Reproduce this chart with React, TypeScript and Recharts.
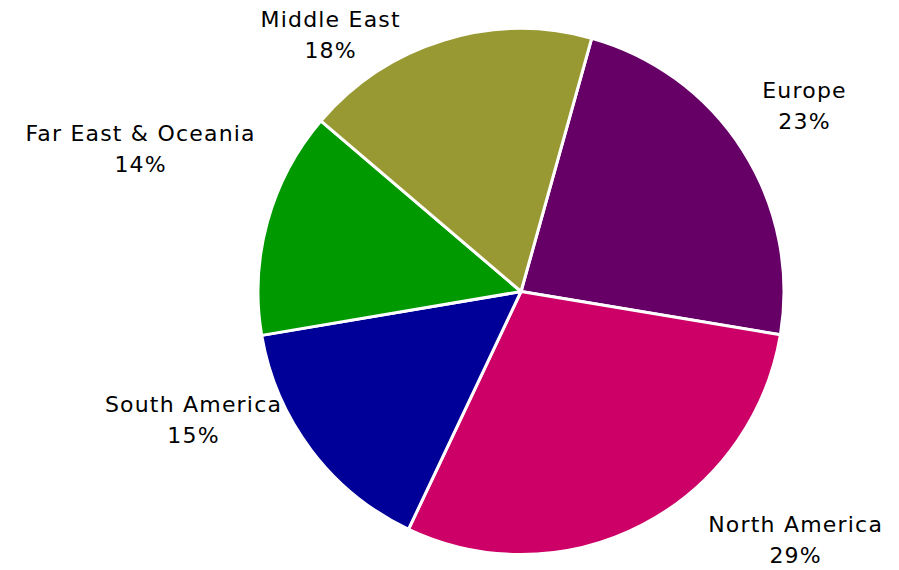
import { PieChart, Pie, Cell } from 'recharts';

const regions = ['Europe', 'North America', 'South America', 'Far East & Oceania', 'Middle East'];
const shares = [23.3, 29.4, 15.3, 13.9, 18.1];
const COLORS = ['#660066', '#CC0066', '#000099', '#009900', '#999933'];

// label nudges from the radial anchor point, per slice
const labelNudge: [number, number][] = [
  [11, -12],
  [125, -38],
  [-70, -67],
  [-69, -57],
  [-96, 52],
];

const data = regions.map((name, i) => ({ name, value: shares[i] }));

const RADIAN = Math.PI / 180;

const renderLabel = (props: any) => {
  const { cx, cy, midAngle, outerRadius, percent, index } = props;
  const r = outerRadius + 60;
  const x = cx + r * Math.cos(-midAngle * RADIAN) + labelNudge[index][0];
  const y = cy + r * Math.sin(-midAngle * RADIAN) + labelNudge[index][1];
  return (
    <text
      x={x}
      y={y}
      textAnchor="middle"
      fill="#000"
      fontSize={22}
      letterSpacing={1.2}
      fontFamily="'DejaVu Sans', Verdana, sans-serif"
    >
      <tspan x={x} y={y - 15.5} dominantBaseline="central">{data[index].name}</tspan>
      <tspan x={x} y={y + 15.5} dominantBaseline="central">{`${Math.round(percent * 100)}%`}</tspan>
    </text>
  );
};

export default function App() {
  return (
    <div style={{ position: 'absolute', left: 0, top: 0, background: '#fff' }}>
      <PieChart width={899} height={570} margin={{ top: 0, right: 0, bottom: 0, left: 0 }}>
        <Pie
          data={data}
          dataKey="value"
          cx={521}
          cy={291.5}
          outerRadius={263}
          startAngle={74.4}
          endAngle={-285.6}
          stroke="#fff"
          strokeWidth={3}
          label={renderLabel}
          labelLine={false}
          isAnimationActive={false}
        >
          {data.map((entry, index) => (
            <Cell key={`cell-${index}`} fill={COLORS[index]} />
          ))}
        </Pie>
      </PieChart>
    </div>
  );
}
